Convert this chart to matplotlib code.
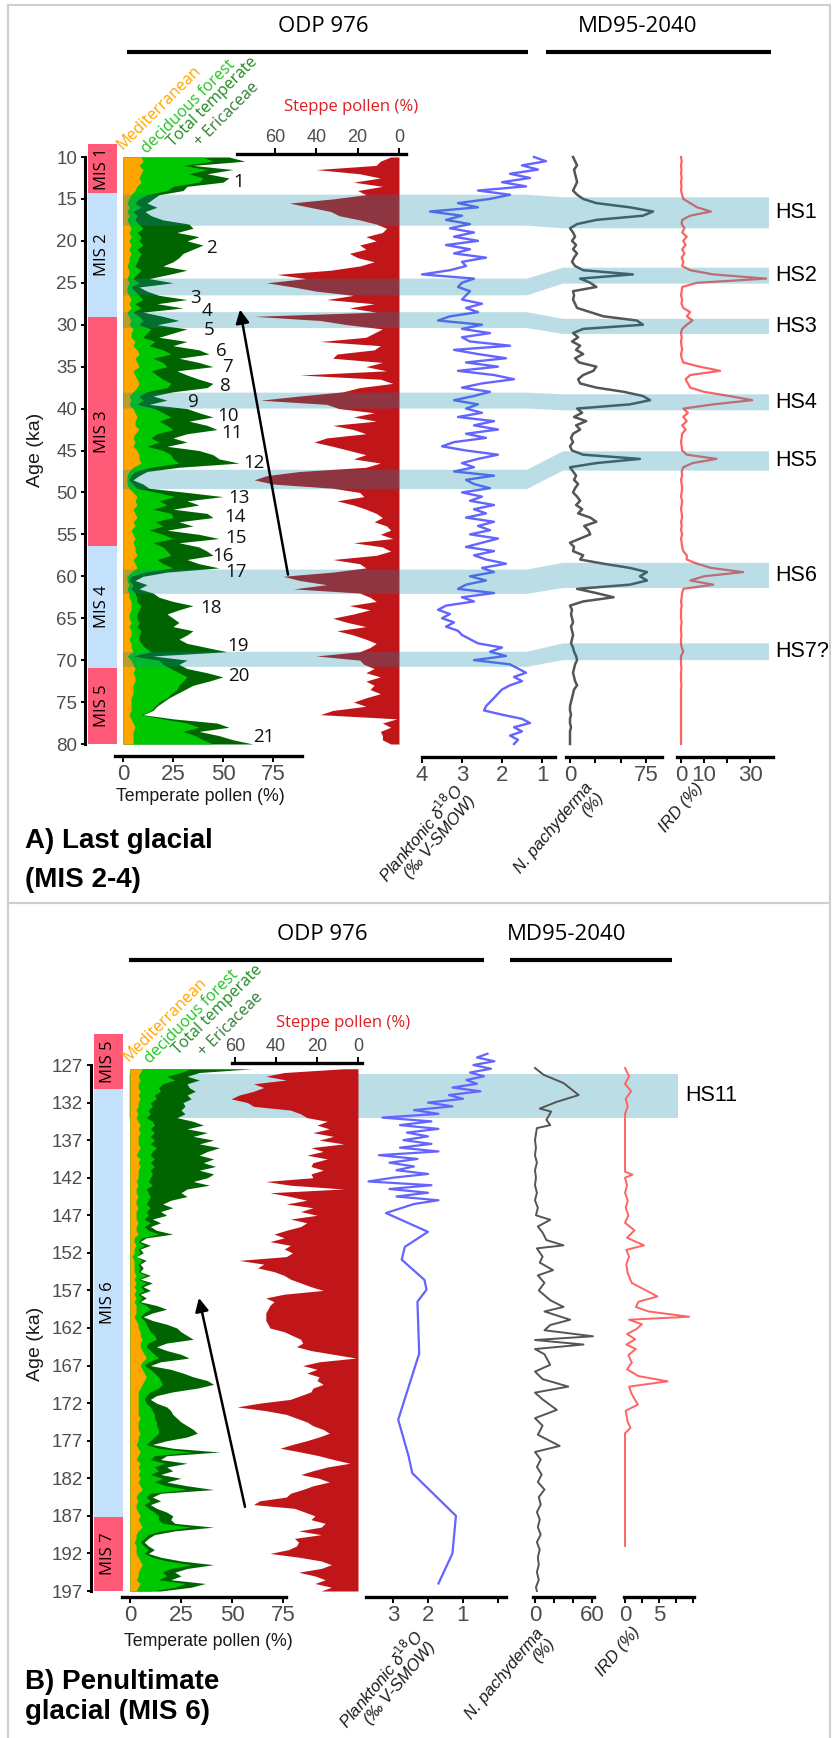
import numpy as np
import matplotlib
matplotlib.use("Agg")
import matplotlib.pyplot as plt
from matplotlib import font_manager
from matplotlib.lines import Line2D
from matplotlib.patches import Rectangle

W, H = 833, 1738

# ---------------- data : panel A (last glacial) ----------------
AGE_A = np.arange(10, 80.01, 0.5)          # 0.5 ka sampling grid

TEMP_A = [53, 61, 35, 55, 42, 53, 50, 32, 30, 18,
          15, 12, 17, 11, 14, 20, 33, 35, 27, 38,
          32, 40, 35, 30, 28, 25, 20, 32, 23, 13,
          25, 8, 12, 18, 32, 17, 30, 10, 20, 28,
          17, 32, 25, 18, 32, 25, 38, 43, 28, 38,
          45, 27, 32, 38, 45, 42, 25, 15, 22, 13,
          32, 38, 45, 33, 42, 47, 32, 25, 32, 22,
          38, 45, 48, 58, 28, 12, 8, 5, 10, 13,
          32, 50, 32, 38, 25, 42, 45, 28, 35, 22,
          38, 48, 28, 38, 42, 45, 32, 38, 48, 22,
          10, 6, 12, 8, 15, 18, 25, 35, 28, 22,
          25, 28, 25, 35, 32, 28, 32, 42, 52, 15,
          32, 28, 32, 42, 50, 43, 35, 31, 27, 23,
          20, 17, 15, 10, 25, 47, 53, 38, 48, 55,
          65]
DECID_A = [40, 45, 30, 42, 33, 40, 38, 25, 22, 12,
           8, 6, 9, 5, 7, 6, 8, 10, 7, 9,
           8, 10, 7, 9, 8, 7, 6, 9, 7, 5,
           8, 4, 6, 8, 10, 6, 9, 5, 8, 10,
           8, 14, 12, 10, 16, 13, 20, 24, 15, 20,
           22, 14, 17, 20, 24, 22, 12, 8, 10, 7,
           16, 20, 24, 18, 22, 25, 17, 14, 18, 12,
           20, 24, 25, 28, 14, 6, 4, 3, 5, 7,
           17, 26, 18, 22, 15, 24, 25, 16, 20, 13,
           20, 25, 15, 20, 22, 24, 17, 20, 25, 11,
           4, 3, 5, 4, 6, 7, 7, 9, 8, 7,
           7, 8, 7, 9, 8, 8, 9, 11, 14, 5,
           18, 20, 24, 28, 32, 30, 28, 27, 24, 22,
           18, 16, 14, 9, 20, 32, 38, 30, 36, 40,
           45]
MED_A = [9, 10, 8, 10, 9, 8, 9, 7, 6, 4,
         3, 2, 3, 2, 3, 2, 3, 4, 3, 4,
         3, 4, 3, 4, 3, 3, 2, 3, 3, 2,
         3, 2, 2, 3, 4, 3, 4, 2, 3, 4,
         3, 5, 4, 4, 6, 5, 7, 8, 6, 7,
         8, 5, 6, 7, 8, 7, 5, 3, 4, 3,
         5, 6, 7, 6, 6, 8, 6, 5, 6, 5,
         7, 8, 8, 9, 5, 3, 2, 2, 2, 3,
         5, 7, 6, 7, 5, 6, 7, 5, 6, 4,
         5, 6, 5, 6, 6, 7, 5, 6, 7, 4,
         2, 2, 3, 2, 3, 3, 4, 4, 4, 3,
         3, 4, 3, 4, 4, 3, 4, 4, 5, 2,
         4, 5, 6, 5, 6, 6, 5, 5, 5, 4,
         4, 4, 4, 3, 4, 5, 6, 5, 5, 5,
         5]
STEPPE_A = [4, 9, 11, 40, 19, 9, 22, 8, 20, 16,
            32, 53, 43, 33, 29, 19, 11, 6, 8, 16,
            11, 19, 16, 24, 20, 12, 19, 33, 59, 45,
            64, 51, 40, 22, 35, 12, 24, 11, 70, 38,
            25, 8, 12, 16, 38, 9, 12, 30, 32, 8,
            16, 6, 48, 9, 3, 19, 27, 48, 67, 35,
            29, 12, 22, 11, 32, 22, 16, 35, 41, 32,
            24, 16, 22, 9, 16, 48, 64, 70, 61, 32,
            19, 17, 30, 22, 16, 11, 8, 12, 6, 4,
            9, 3, 22, 8, 4, 11, 32, 19, 16, 32,
            56, 48, 35, 51, 19, 14, 11, 24, 14, 22,
            32, 25, 16, 30, 22, 16, 11, 14, 19, 40,
            19, 17, 12, 16, 9, 16, 12, 14, 9, 16,
            22, 16, 32, 38, 1, 8, 4, 9, 8, 8,
            4]
D18O_A = [1.2, 0.9, 1.5, 1.1, 1.8, 1.3, 2.0, 1.4, 2.6, 1.8,
          2.3, 3.1, 2.6, 3.8, 3.0, 3.4, 2.8, 3.3, 2.7, 3.2,
          2.6, 3.4, 2.8, 3.2, 2.4, 3.0, 2.9, 3.3, 4.0, 2.7,
          3.0, 3.1, 2.8, 2.9, 3.0, 2.5, 2.9, 2.6, 3.3, 3.6,
          2.5, 3.0, 2.3, 3.0, 2.8, 1.8, 3.2, 2.6, 1.9, 2.9,
          2.1, 3.1, 2.2, 1.7, 2.5, 3.0, 2.3, 2.7, 3.2, 2.6,
          2.9, 2.5, 3.1, 2.2, 2.7, 2.1, 2.9, 2.4, 3.2, 3.5,
          2.9, 2.1, 2.6, 3.0, 2.7, 3.2, 2.2, 2.9, 2.7, 2.3,
          3.0, 2.5, 2.8, 2.2, 2.7, 2.4, 2.9, 2.2, 2.6, 2.3,
          2.8, 2.1, 2.5, 2.9, 2.2, 2.7, 2.4, 1.9, 2.5, 2.2,
          2.8, 2.4, 2.9, 3.1, 2.2, 3.0, 2.7, 3.4, 3.6, 3.3,
          3.5, 3.2, 3.4, 3.1, 3.0, 2.8, 2.6, 2.0, 2.3, 1.9,
          2.7, 1.8, 1.6, 1.4, 1.7, 1.5, 1.8, 2.0, 2.1, 2.2,
          2.3, 2.4, 2.45, 2.0, 1.5, 1.3, 1.7, 1.5, 1.8, 1.6,
          1.7]
PACHY_A = [3, 5, 7, 4, 5, 6, 7, 5, 3, 7,
           13, 26, 59, 82, 72, 26, 7, 0, 3, 5,
           2, 6, 3, 7, 4, 2, 5, 13, 62, 10,
           20, 26, 3, 4, 3, 5, 7, 20, 33, 66,
           72, 13, 3, 8, 2, 10, 6, 13, 5, 9,
           26, 23, 13, 8, 10, 26, 53, 72, 79, 59,
           7, 12, 4, 16, 6, 10, 3, 1, 3, 0,
           2, 13, 69, 26, 0, 3, 6, 4, 8, 5,
           3, 7, 10, 6, 12, 8, 20, 26, 14, 18,
           20, 10, 0, 4, 3, 13, 10, 33, 59, 76,
           69, 76, 59, 7, 26, 43, 13, 0, 2, 1,
           2, 3, 1, 2, 3, 2, 1, 3, 4, 6,
           7, 5, 4, 3, 4, 5, 7, 4, 3, 2,
           1, 0, 0, 1, 0, 0, 1, 0, 0, 0,
           0]
IRD_A = [0, 0.3, 0, 0.2, 0, 0.3, 0, 0.2, 0, 0.5,
         1, 4, 7, 13, 4, 0.5, 0.3, 1.5, 0.5, 2.5,
         1, 2, 0.5, 1.5, 0.3, 1, 0.5, 4, 14, 37,
         7, 0.5, 0.3, 0, 0.5, 0.2, 1, 4, 2.5, 5,
         2.5, 0.5, 0, 0.3, 0, 0.2, 0.5, 0, 0.3, 1,
         8, 17, 4, 2, 3, 4, 10, 21, 31, 14,
         1, 3, 1, 2.5, 0.5, 2, 0.5, 0.3, 0, 0.3,
         0.5, 2.5, 15.5, 5, 1, 0.3, 0.5, 0, 0.3, 0.5,
         0.3, 0, 0.5, 0.3, 0, 0.3, 0.5, 0, 0.3, 0,
         0.5, 0, 0.3, 0.5, 1, 2.5, 2.5, 7, 13, 27,
         10, 4, 14, 1, 0.5, 0.3, 0, 0.3, 0, 0,
         0, 0.3, 0, 0, 0.2, 0, 0, 0.3, 1, 0,
         0, 0, 0.2, 0, 0, 0, 0.2, 0, 0, 0,
         0, 0, 0, 0, 0, 0, 0, 0, 0, 0,
         0]

MIS_A = ["MIS 1", "MIS 2", "MIS 3", "MIS 4", "MIS 5"]
MIS_A_EDGES = [8.45, 14.3, 29.1, 56.4, 70.9, 80]

HS_A = ["HS1", "HS2", "HS3", "HS4", "HS5", "HS6", "HS7?"]
HS_A_ODP = [(14.5, 18.2), (24.5, 26.5), (28.5, 30.4), (38.1, 40.0),
            (47.3, 49.6), (59.2, 62.1), (69.0, 70.8)]
HS_A_MD = [(14.8, 18.5), (23.2, 25.1), (29.3, 31.1), (38.3, 40.2),
           (45.1, 47.4), (58.4, 61.4), (68.0, 70.0)]

EVENT_NUM_X = [58, 44, 36.5, 42, 43, 49, 52.5, 51, 35, 52.5, 54.5,
               65.5, 58, 56, 56.5, 50, 56.5, 44, 57.5, 58, 70.5]
EVENT_NUM_AGE = [13.0, 20.9, 26.8, 28.4, 30.6, 33.1, 35.0, 37.3, 39.2, 40.9,
                 42.9, 46.5, 50.7, 52.9, 55.4, 57.6, 59.5, 63.8, 68.3, 71.9, 79.2]

# ---------------- data : panel B (penultimate glacial) ----------------
AGE_B = np.arange(127.5, 197.01, 0.5)

TEMP_B = [60, 34, 28, 34, 28, 29, 32, 28, 30, 26,
          27, 25, 27, 23, 31, 36, 28, 38, 31, 41,
          34, 44, 38, 34, 41, 36, 42, 34, 41, 38,
          31, 39, 28, 25, 28, 20, 16, 21, 15, 18,
          11, 15, 10, 13, 21, 8, 5, 10, 5, 6.5,
          3, 8, 5, 6.5, 5, 10, 5, 11, 6.5, 10,
          5, 8, 5, 13, 18, 11, 6.5, 11, 18, 23,
          25, 28, 31, 18, 13, 18, 25, 29, 15, 10,
          20, 26, 31, 38, 41, 33, 21, 13, 10, 13,
          18, 20, 21, 23, 25, 28, 31, 33, 28, 18,
          11, 21, 44, 18, 15, 28, 18, 21, 15, 25,
          18, 28, 41, 15, 11, 15, 10, 13, 18, 21,
          20, 22, 41, 22, 12, 9, 7, 9, 12, 9,
          15, 25, 41, 28, 22, 25, 20, 37, 30, 15]
DECID_B = [30, 25, 18, 22, 16, 14, 15, 12, 13, 10,
           11, 9, 10, 8, 11, 12, 10, 12, 10, 12,
           10, 13, 11, 10, 12, 10, 12, 10, 11, 10,
           9, 11, 8, 9, 10, 9, 8, 10, 8, 9,
           7, 10, 7, 9, 14, 6, 4, 7, 4, 5,
           3, 6, 4, 5, 4, 8, 4, 8, 5, 7,
           4, 6, 4, 8, 10, 7, 5, 7, 8, 9,
           10, 12, 13, 9, 8, 10, 12, 14, 9, 7,
           10, 12, 14, 15, 16, 14, 10, 8, 7, 8,
           10, 11, 12, 12, 13, 13, 14, 14, 12, 10,
           8, 14, 30, 12, 10, 17, 12, 14, 10, 16,
           12, 18, 28, 10, 8, 10, 7, 9, 12, 14,
           14, 16, 30, 15, 9, 7, 5, 7, 9, 7,
           11, 18, 30, 20, 16, 18, 14, 27, 22, 10]
MED_B = [6, 5, 4, 5, 4, 4, 5, 4, 5, 4,
         4, 3, 4, 3, 4, 5, 4, 5, 4, 4,
         4, 5, 4, 3, 5, 4, 5, 4, 4, 4,
         3, 4, 3, 3, 4, 3, 3, 4, 3, 3,
         3, 4, 3, 3, 4, 2, 2, 3, 2, 2,
         1, 2, 2, 2, 2, 3, 2, 3, 2, 3,
         2, 3, 2, 3, 3, 3, 2, 3, 4, 4,
         5, 5, 6, 5, 5, 6, 7, 8, 6, 5,
         6, 7, 8, 7, 6, 5, 4, 4, 4, 4,
         4, 4, 4, 5, 4, 4, 4, 5, 4, 4,
         3, 4, 5, 4, 3, 5, 4, 5, 4, 5,
         4, 5, 6, 4, 3, 4, 3, 3, 4, 5,
         4, 5, 6, 4, 3, 3, 2, 3, 3, 3,
         4, 5, 6, 5, 4, 4, 3, 5, 4, 3]
STEPPE_B = [7, 36, 45, 35, 51, 46, 51, 58, 62, 54,
            51, 33, 28, 25, 15, 20, 14, 22, 12, 19,
            7, 23, 17, 25, 15, 22, 23, 17, 23, 22,
            45, 33, 7, 43, 33, 25, 35, 22, 28, 20,
            33, 25, 28, 35, 41, 36, 43, 33, 36, 32,
            35, 58, 46, 49, 41, 36, 33, 28, 23, 17,
            36, 45, 41, 43, 44, 45, 45, 45, 44, 43,
            36, 32, 28, 27, 30, 23, 12, 1, 19, 27,
            20, 25, 19, 20, 17, 22, 23, 28, 33, 48,
            59, 45, 35, 30, 25, 22, 17, 14, 19, 25,
            32, 38, 28, 19, 12, 4, 15, 22, 28, 19,
            14, 22, 27, 33, 35, 48, 51, 31, 26, 21,
            23, 16, 18, 29, 18, 31, 29, 30, 34, 43,
            29, 18, 13, 18, 29, 21, 16, 21, 13, 18]

D18O_B_AGE = [125.5, 126.0, 126.5, 127.0, 127.5, 128.0, 128.5, 129.0, 129.5, 130.0,
              130.5, 131.0, 131.5, 132.0, 132.5, 133.0, 133.5, 134.0, 134.5, 135.0,
              135.5, 136.0, 136.5, 137.0, 137.5, 138.0, 138.5, 139.0, 139.5, 140.0,
              140.5, 141.0, 141.5, 142.0, 142.5, 143.0, 143.5, 144.0, 144.5, 145.0,
              145.5, 146.7, 149.2, 151.2, 152.9, 155.6, 156.9, 158.5, 165.4, 174.2,
              179.1, 181.3, 187.0, 192.0, 196.0]
D18O_B = [0.3, 0.6, 0.1, 0.7, 0.2, 0.8, 0.4, 0.9, 0.6, 1.3,
          0.5, 1.4, 1.0, 2.0, 1.3, 2.4, 1.7, 3.3, 1.9, 2.8,
          1.7, 2.6, 2.0, 2.7, 1.9, 2.8, 1.7, 3.4, 2.3, 3.1,
          2.4, 2.9, 2.0, 3.0, 3.7, 1.9, 3.1, 2.0, 2.9, 1.7,
          2.4, 3.2, 2.0, 2.66, 2.75, 2.1, 2.04, 2.3, 2.25, 2.85,
          2.55, 2.45, 1.2, 1.3, 1.7]

PACHY_B_AGE = [127.4, 128.3, 129.4, 131.0, 131.9, 132.8, 133.2, 134.3, 135.0, 135.4,
               137.0, 138, 139, 140, 141, 142, 143, 144, 145, 146,
               147, 147.6, 148.5, 149.3, 150.3, 151.0, 151.4, 152.5, 153.3, 154.3,
               155.0, 156.0, 157.0, 158.3, 159.2, 159.8, 160.9, 161.6, 162.3, 163.1,
               163.6, 164.2, 164.8, 165.5, 166.9, 167.8, 168.8, 169.8, 170.6, 171.5,
               172.9, 174.0, 175, 176.2, 177.7, 178.5, 179.5, 180.5, 181.5, 182.5,
               183.5, 184.5, 185.5, 186.5, 187.5, 188.5, 189.5, 190.5, 191.5, 192.5,
               193.5, 194.5, 195.5, 196.5, 197.0]
PACHY_B = [0, 9, 30, 46, 23, 5, 17, 12, 16, 2,
           0, 1, 0, 2, 0, 1, 0, 2, 0, 3,
           1, 16, 3, 8, 12, 30, 2, 8, 5, 19,
           3, 10, 4, 16, 30, 10, 37, 16, 10, 61,
           0, 51, 0, 10, 16, 0, 8, 35, 0, 8,
           23, 0, 8, 3, 26, 0, 6, 2, 7, 3,
           10, 4, 6, 2, 5, 3, 6, 2, 5, 3,
           4, 2, 4, 1, 2]

IRD_B_AGE = [127.4, 128.5, 129.5, 130.5, 131.5, 132.5, 133.5, 141.2, 141.6, 142,
             143, 144, 145, 146, 147, 148, 149.0, 150, 151.0, 151.6,
             152.5, 153.5, 154.7, 156, 157.8, 158.5, 159.2, 159.8, 160.5, 160.9,
             161.5, 162.2, 162.8, 163.5, 164.2, 164.8, 165.6, 166.6, 167.5, 168.4,
             169.1, 169.8, 170.8, 172.2, 173.0, 174.5, 175.3, 176.0, 191.0]
IRD_B = [0, 0.6, 0, 0.9, 0.1, 0.4, 0, 0, 1.1, 0,
         0.3, 0, 0.4, 0.1, 0.5, 0, 1.4, 0.3, 2.8, 0.2,
         0.6, 0.2, 0.4, 1.0, 4.8, 2.0, 1.6, 3.5, 9.5, 0.6,
         2.5, 1.6, 0.3, 1.5, 0.2, 1.6, 0.5, 1.0, 0.3, 2.0,
         6.3, 0.6, 1.0, 1.9, 0.1, 0.4, 0.8, 0.0, 0]

MIS_B = ["MIS 5", "MIS 6", "MIS 7"]
MIS_B_EDGES = [122.9, 130.2, 187.1, 197]
HS_B = ["HS11"]
HS_B_SPAN = [(128.2, 134.0)]

# ---------------- style ----------------
def has_font(name):
    try:
        font_manager.findfont(font_manager.FontProperties(family=name),
                              fallback_to_default=False)
        return True
    except Exception:
        return False

SANS = "Liberation Sans"
NARROW = "Liberation Sans Narrow" if has_font("Liberation Sans Narrow") else "Liberation Sans"
OPEN = "Open Sans"
GREY = "#4D4D4D"
C_MED, C_DEC, C_TOT = "#FFA500", "#00C800", "#006400"
C_STEP = "#C0161A"
C_D18O, C_PACHY, C_IRD = "#6464FF", "#555555", "#FF6464"
PINK, LBLUE = "#FF5A78", "#C4E1FB"
BAND = (0.047, 0.537, 0.651, 0.28)

fig = plt.figure(figsize=(W / 100, H / 100), dpi=100)


def px_ax(x0, x1, y0, y1, z=1):
    ax = fig.add_axes([x0 / W, 1 - y1 / H, (x1 - x0) / W, (y1 - y0) / H], zorder=z)
    ax.patch.set_alpha(0)
    return ax


def ftext(x, y, s, **kw):
    return fig.text(x / W, 1 - y / H, s, **kw)


def hline(x0, x1, y, lw=3):
    fig.add_artist(Line2D([x0 / W, x1 / W], [1 - y / H, 1 - y / H],
                          color="black", lw=lw, solid_capstyle="butt"))


def bottom_axis(ax, ticks, labels, out_px):
    for s in ("top", "right", "left"):
        ax.spines[s].set_visible(False)
    ax.spines["bottom"].set_position(("outward", out_px * 0.72))
    ax.spines["bottom"].set_linewidth(2.4)
    ax.set_yticks([])
    ax.set_xticks(ticks)
    ax.set_xticklabels(labels, fontfamily=NARROW, fontsize=16, color=GREY)
    ax.tick_params(axis="x", length=4, width=1.4, color="black", pad=1.5)


def top_axis(ax, ticks, out_px):
    for s in ("bottom", "right", "left"):
        ax.spines[s].set_visible(False)
    ax.spines["top"].set_position(("outward", out_px * 0.72))
    ax.spines["top"].set_linewidth(2.4)
    ax.xaxis.tick_top()
    ax.set_yticks([])
    ax.set_xticks(ticks)
    ax.set_xticklabels([str(t) for t in ticks], fontfamily=SANS, fontsize=13, color=GREY)
    ax.tick_params(axis="x", length=4, width=1.4, color="black", pad=1.5)


def age_axis(ax, ticks, lim):
    for s in ("top", "right", "bottom"):
        ax.spines[s].set_visible(False)
    ax.spines["left"].set_linewidth(2.2)
    ax.set_ylim(*lim)
    ax.set_xlim(0, 32)
    ax.set_xticks([])
    ax.set_yticks(ticks)
    ax.set_yticklabels([str(t) for t in ticks], fontfamily=SANS, fontsize=13.5, color=GREY)
    ax.tick_params(axis="y", length=3, width=1.4, color="black", pad=2.5)


def mis_bars(ax, names, edges):
    for i, name in enumerate(names):
        a0, a1 = edges[i], edges[i + 1]
        col = PINK if int(name.split()[1]) % 2 else LBLUE
        ax.bar(17.5, a1 - a0, bottom=a0, width=29, color=col, clip_on=False, lw=0)
        ax.text(17.5, (a0 + a1) / 2, name, rotation=90, ha="center", va="center",
                family=OPEN, fontsize=12, color="black")


def pollen(ax, age, temp, decid, med):
    ax.fill_betweenx(age, 0, temp, color=C_TOT, lw=0)
    ax.fill_betweenx(age, 0, decid, color=C_DEC, lw=0)
    ax.fill_betweenx(age, 0, med, color=C_MED, lw=0)


def legend_words(xs, ys):
    words = [("Mediterranean", C_MED), ("deciduous forest", "#22C422"),
             ("Total temperate", "#1E8A1E"), ("+ Ericaceae", "#2E7D32")]
    for (w, c), x, y in zip(words, xs, ys):
        ftext(x, y, w, rotation=45, rotation_mode="anchor", ha="left", va="baseline",
              color=c, family=OPEN, fontsize=11.5)


def axis_titles(y_temp, x_temp, anchors):
    ftext(x_temp, y_temp, "Temperate pollen (%)", ha="center", va="center",
          family=NARROW, fontsize=12.8, color="#1A1A1A")
    texts = ["Planktonic δ$^{18}$O\n(‰ V-SMOW)", "N. pachyderma\n(%)", "IRD (%)"]
    for t, (x, y) in zip(texts, anchors):
        ftext(x, y, t, rotation=50, rotation_mode="anchor", ha="right", va="top",
              multialignment="right", family=NARROW, style="italic",
              fontsize=12, color="#1A1A1A", linespacing=1.0)


# ======================= PANEL A =======================
yA = (157, 744)
limA = (80, 10)

mis = px_ax(85, 117, *yA)
age_axis(mis, list(range(10, 81, 5)), limA)
mis_bars(mis, MIS_A, MIS_A_EDGES)
ftext(35, 450, "Age (ka)", rotation=90, ha="center", va="center",
      family=SANS, fontsize=14, color="#1A1A1A")

tA = px_ax(115, 302, *yA)
tA.set_xlim(-4, 89.5); tA.set_ylim(*limA)
pollen(tA, AGE_A, TEMP_A, DECID_A, MED_A)
bottom_axis(tA, [0, 25, 50, 75], ["0", "25", "50", "75"], 12)

sA = px_ax(237, 406, *yA)
sA.set_xlim(78.3, -3.4); sA.set_ylim(*limA)
sA.fill_betweenx(AGE_A, 0, STEPPE_A, color=C_STEP, lw=0)
top_axis(sA, [60, 40, 20, 0], 3)
ftext(351, 107, "Steppe pollen (%)", ha="center", va="center", family=OPEN,
      fontsize=12, color="#DC1E24")

dA = px_ax(422, 555, *yA)
dA.set_xlim(4, 0.675); dA.set_ylim(*limA)
dA.plot(D18O_A, AGE_A, color=C_D18O, lw=1.7, clip_on=False)
bottom_axis(dA, [4, 3, 2, 1], ["4", "3", "2", "1"], 13)

pA = px_ax(566, 662, *yA)
pA.set_xlim(-3.95, 90.8); pA.set_ylim(*limA)
pA.plot(PACHY_A, AGE_A, color=C_PACHY, lw=1.8, clip_on=False)
bottom_axis(pA, [0, 25, 50, 75], ["0", "", "", "75"], 13)

iA = px_ax(677, 773, *yA)
iA.set_xlim(-1.74, 40); iA.set_ylim(*limA)
iA.plot(IRD_A, AGE_A, color=C_IRD, lw=1.6, clip_on=False)
bottom_axis(iA, [0, 10, 20, 30], ["0", "10", "", "30"], 13)

# Heinrich stadial bands drawn over the records, shifted between cores
ovA = px_ax(0, W, *yA, z=5)
ovA.set_xlim(0, W); ovA.set_ylim(*limA); ovA.axis("off")
bx = [123, 527, 563, 769]
for name, (l0, l1), (r0, r1) in zip(HS_A, HS_A_ODP, HS_A_MD):
    ovA.fill([bx[0], bx[1], bx[2], bx[3], bx[3], bx[2], bx[1], bx[0]],
             [l0, l0, r0, r0, r1, r1, l1, l1], color=BAND, lw=0)
    ovA.text(775, (r0 + r1) / 2, name, ha="left", va="center", family=SANS,
             fontsize=15.5, color="black")
for i, (x, a) in enumerate(zip(EVENT_NUM_X, EVENT_NUM_AGE)):
    ovA.text(x, a, str(i + 1), transform=tA.transData, ha="center", va="center",
             family=OPEN, fontsize=13.5, color="#111111")
ovA.annotate("", xy=(58.5, 28.2), xycoords=tA.transData, xytext=(82.5, 59.8),
             textcoords=tA.transData,
             arrowprops=dict(arrowstyle="-|>", color="black", lw=1.8,
                             mutation_scale=20, shrinkA=0, shrinkB=0))

legend_words([123, 147, 173, 200], [150, 154, 147, 147])
ftext(323, 27, "ODP 976", ha="center", va="center", family=OPEN, fontsize=16)
ftext(638, 27, "MD95-2040", ha="center", va="center", family=OPEN, fontsize=16)
hline(127, 528, 52)
hline(546, 771, 52)
axis_titles(797, 200, [(452, 780), (584, 780), (694, 780)])
ftext(25, 848, "A) Last glacial", ha="left", va="baseline", family=SANS,
      weight="bold", fontsize=20)
ftext(25, 887, "(MIS 2-4)", ha="left", va="baseline", family=SANS,
      weight="bold", fontsize=20)

# ======================= PANEL B =======================
yB = (1065, 1591)
limB = (197, 127)

ovB = px_ax(0, W, *yB, z=0)
ovB.set_xlim(0, W); ovB.set_ylim(*limB); ovB.axis("off")
for name, (b0, b1) in zip(HS_B, HS_B_SPAN):
    ovB.fill([129, 678, 678, 129], [b0, b0, b1, b1], color="#BBDEE6", lw=0)
    ovB.text(685, (b0 + b1) / 2, name, ha="left", va="center", family=SANS,
             fontsize=15.5, color="black")

misB = px_ax(91, 123, *yB)
age_axis(misB, list(range(127, 198, 5)), limB)
mis_bars(misB, MIS_B, MIS_B_EDGES)
ftext(35, 1344, "Age (ka)", rotation=90, ha="center", va="center",
      family=SANS, fontsize=14, color="#1A1A1A")

tB = px_ax(122, 286, *yB)
tB.set_xlim(-3.9, 76.5); tB.set_ylim(*limB)
pollen(tB, AGE_B, TEMP_B, DECID_B, MED_B)
bottom_axis(tB, [0, 25, 50, 75], ["0", "25", "50", "75"], 6)
tB.annotate("", xy=(33.8, 158.0), xytext=(56.4, 185.8), annotation_clip=False,
            arrowprops=dict(arrowstyle="-|>", color="black", lw=1.8,
                            mutation_scale=20, shrinkA=0, shrinkB=0))

sB = px_ax(232, 362, *yB)
sB.set_xlim(61.5, -1.95); sB.set_ylim(*limB)
sB.fill_betweenx(AGE_B, 0, STEPPE_B, color=C_STEP, lw=0, clip_on=False)
top_axis(sB, [60, 40, 20, 0], 2)
ftext(343, 1023, "Steppe pollen (%)", ha="center", va="center", family=OPEN,
      fontsize=12, color="#DC1E24")

dB = px_ax(366, 506, *yB)
dB.set_xlim(3.77, -0.23); dB.set_ylim(*limB)
dB.plot(D18O_B, D18O_B_AGE, color=C_D18O, lw=1.6, clip_on=False)
bottom_axis(dB, [3, 2, 1, 0], ["3", "2", "1", ""], 6)

pB = px_ax(533, 594, *yB)
pB.set_xlim(-2.1, 62.1); pB.set_ylim(*limB)
pB.plot(PACHY_B, PACHY_B_AGE, color=C_PACHY, lw=1.4, clip_on=False)
bottom_axis(pB, [0, 20, 40, 60], ["0", "", "", "60"], 6)

iB = px_ax(624, 694, *yB)
iB.set_xlim(-0.15, 10.2); iB.set_ylim(*limB)
iB.plot(IRD_B, IRD_B_AGE, color=C_IRD, lw=1.4, clip_on=False)
bottom_axis(iB, [0, 2.5, 5, 7.5, 10], ["0", "", "5", "", ""], 6)

legend_words([128, 150, 178, 204], [1062, 1064, 1055, 1057])
ftext(322, 935, "ODP 976", ha="center", va="center", family=OPEN, fontsize=16)
ftext(567, 935, "MD95-2040", ha="center", va="center", family=OPEN, fontsize=16)
hline(129, 484, 960)
hline(510, 672, 960)
axis_titles(1642, 208, [(412, 1626), (535, 1626), (631, 1624)])
ftext(25, 1689, "B) Penultimate", ha="left", va="baseline", family=SANS,
      weight="bold", fontsize=20)
ftext(25, 1719, "glacial (MIS 6)", ha="left", va="baseline", family=SANS,
      weight="bold", fontsize=20)

# panel frames
for y0, y1 in ((5, 903), (903, 1745)):
    fig.add_artist(Rectangle((8 / W, 1 - y1 / H), (830 - 8) / W, (y1 - y0) / H,
                             transform=fig.transFigure, fill=False,
                             ec="#CFCFCF", lw=1.5))

fig.savefig("out.png", dpi=100)
